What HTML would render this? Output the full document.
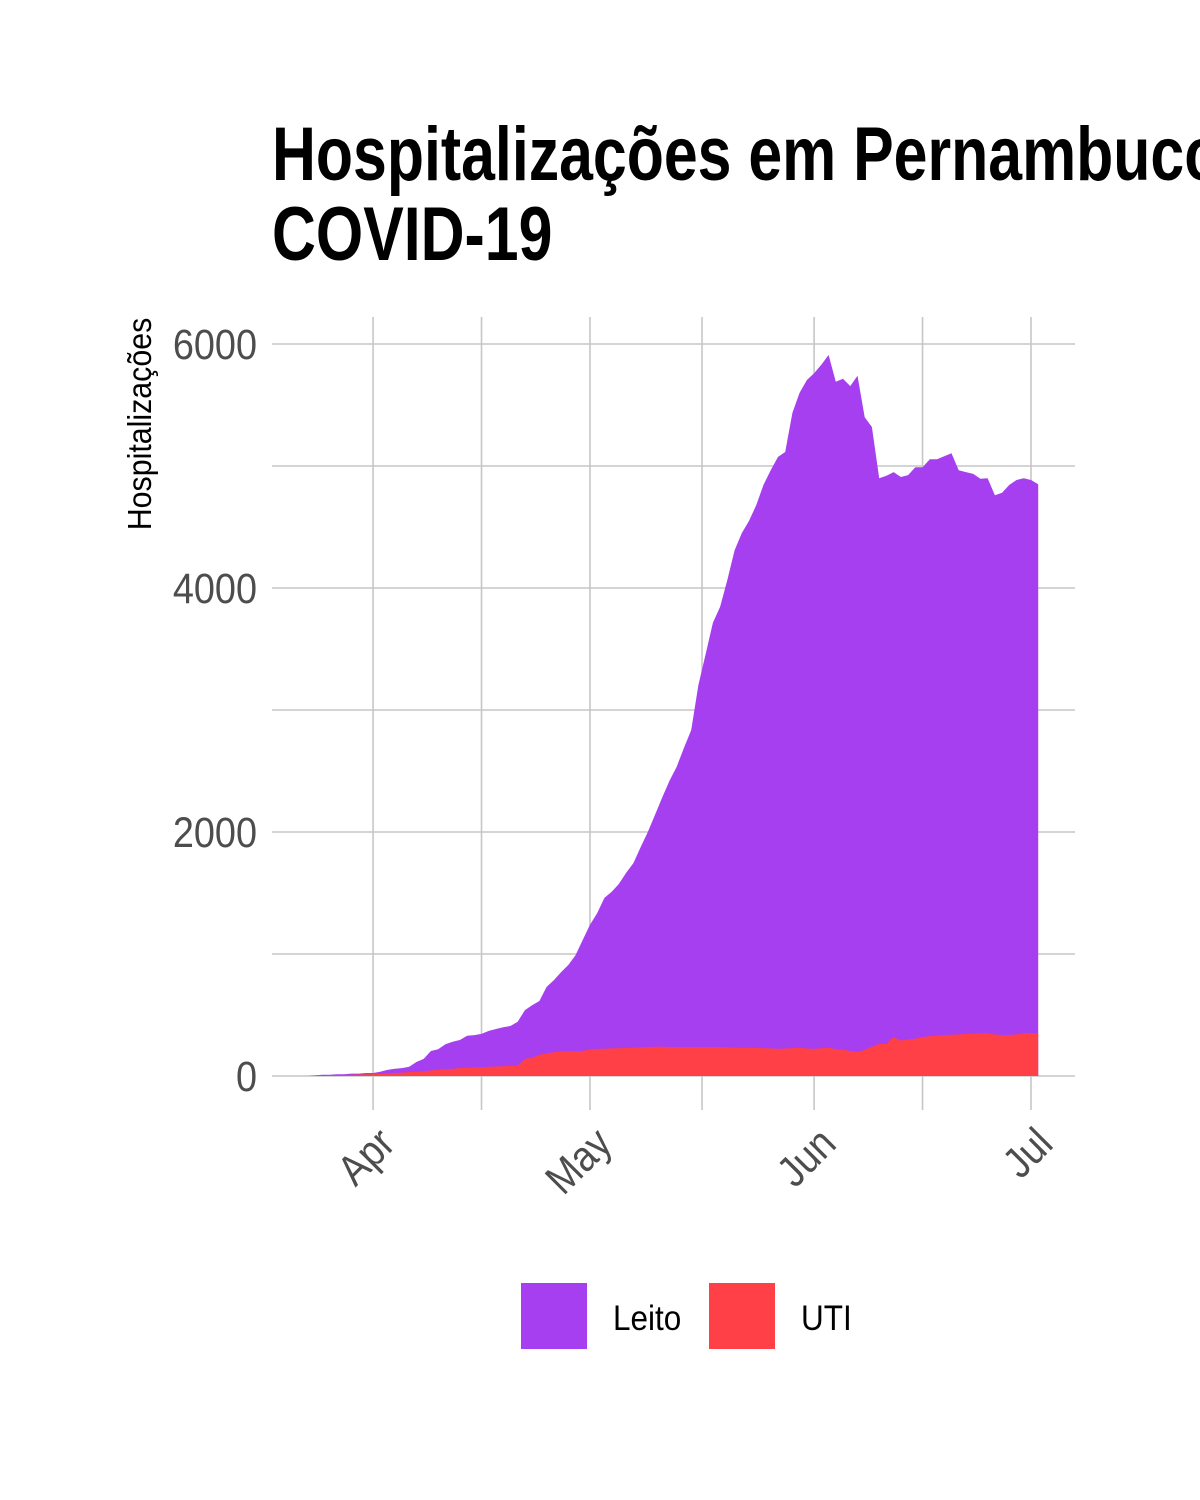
<!DOCTYPE html>
<html><head><meta charset="utf-8"><style>
html,body{margin:0;padding:0;background:#fff;}
svg{display:block;font-family:"Liberation Sans",sans-serif;}
</style></head><body>
<svg id="chart" width="1200" height="1500" viewBox="0 0 1200 1500">
<g>
<text transform="translate(272,180) scale(0.8,1)" font-size="76" font-weight="bold" fill="#000">Hospitalizações em Pernambuco por</text>
<text transform="translate(272,260) scale(0.8,1)" font-size="76" font-weight="bold" fill="#000">COVID-19</text>
</g>
<g id="grid"></g>
<g id="areas"></g>
<g id="yaxis"></g>
<g id="xaxis"></g>
<text transform="translate(151,424) rotate(-90) scale(0.92,1)" text-anchor="middle" font-size="33" fill="#000">Hospitalizações</text>
<g>
<rect x="521" y="1283" width="66" height="66" fill="#a63ff0"/>
<text transform="translate(613,1330) scale(0.9,1)" font-size="35" fill="#000">Leito</text>
<rect x="709" y="1283" width="66" height="66" fill="#ff4046"/>
<text transform="translate(801,1330) scale(0.9,1)" font-size="35" fill="#000">UTI</text>
</g>
</svg>
<script>
// days since 2020-03-23
const leitoValues = [0,5,10,10,15,15,20,20,25,25,35,50,60,65,75,115,140,205,220,260,280,295,330,335,345,370,385,400,410,445,540,580,615,730,785,850,910,990,1115,1240,1335,1460,1510,1575,1665,1745,1875,2000,2140,2285,2420,2535,2690,2835,3205,3460,3715,3845,4065,4310,4450,4550,4680,4845,4965,5075,5115,5435,5600,5705,5760,5830,5910,5690,5715,5655,5740,5400,5320,4900,4920,4950,4910,4925,4990,4990,5055,5055,5080,5105,4965,4950,4935,4895,4900,4760,4780,4845,4885,4900,4885,4850];
const utiValues = [0,2,3,5,6,8,10,12,14,16,20,22,25,28,32,35,40,45,50,55,60,65,68,70,72,75,78,80,82,85,140,148,175,185,195,200,203,205,205,220,222,224,226,228,230,230,235,238,240,240,238,238,238,238,238,238,238,238,236,230,232,232,230,228,226,222,225,228,230,225,222,228,230,221,215,205,197,215,240,262,262,320,290,300,305,320,325,330,336,338,340,344,346,350,352,340,336,336,340,350,352,352];
const yTicks = [0,2000,4000,6000];
const yMinor = [1000,3000,5000];
const monthLabels = ["Apr","May","Jun","Jul"];
const monthDays = [9,39,70,100];
const midMonthDays = [24,54.5,85];

const NS="http://www.w3.org/2000/svg";
const x = d => 308 + d*7.23;
const y = v => 1076 - v*0.122;
function mk(tag, attrs, parent){const e=document.createElementNS(NS,tag);for(const k in attrs)e.setAttribute(k,attrs[k]);parent.appendChild(e);return e;}
const grid=document.getElementById('grid');
[...yTicks,...yMinor].forEach(v=>{
  const l=mk('line',{x1:272,x2:1075,y1:y(v),y2:y(v),stroke:'#c6c6c6','stroke-width':1.6},grid);
  
  
});
[...monthDays,...midMonthDays].forEach(d=>{
  const l=mk('line',{x1:x(d),x2:x(d),y1:317,y2:1110,stroke:'#c6c6c6','stroke-width':1.6},grid);
  
  
});
function area(vals,fill,name){
  let p='M'+x(0)+','+y(0);
  vals.forEach((v,i)=>{p+=' L'+x(i).toFixed(1)+','+y(v).toFixed(1);});
  p+=' L'+x(vals.length-1).toFixed(1)+','+y(0)+' Z';
  const e=mk('path',{d:p,fill:fill},document.getElementById('areas'));
  
  
}
area(leitoValues,'#a63ff0','leito-area');
area(utiValues,'#ff4046','uti-area');
const ya=document.getElementById('yaxis');
yTicks.forEach(v=>{
  const t=mk('text',{transform:`translate(257,${y(v)+15}) scale(0.88,1)`,'text-anchor':'end','font-size':43,fill:'#4d4d4d'},ya);
  t.textContent=v;
  
  
});
const xa=document.getElementById('xaxis');
monthLabels.forEach((m,i)=>{
  const t=mk('text',{transform:`translate(${x(monthDays[i])+24},${1146}) rotate(-45) scale(0.88,1)`,'text-anchor':'end','font-size':43,fill:'#4d4d4d'},xa);
  t.textContent=m;
  
  
});
</script>
</body></html>
